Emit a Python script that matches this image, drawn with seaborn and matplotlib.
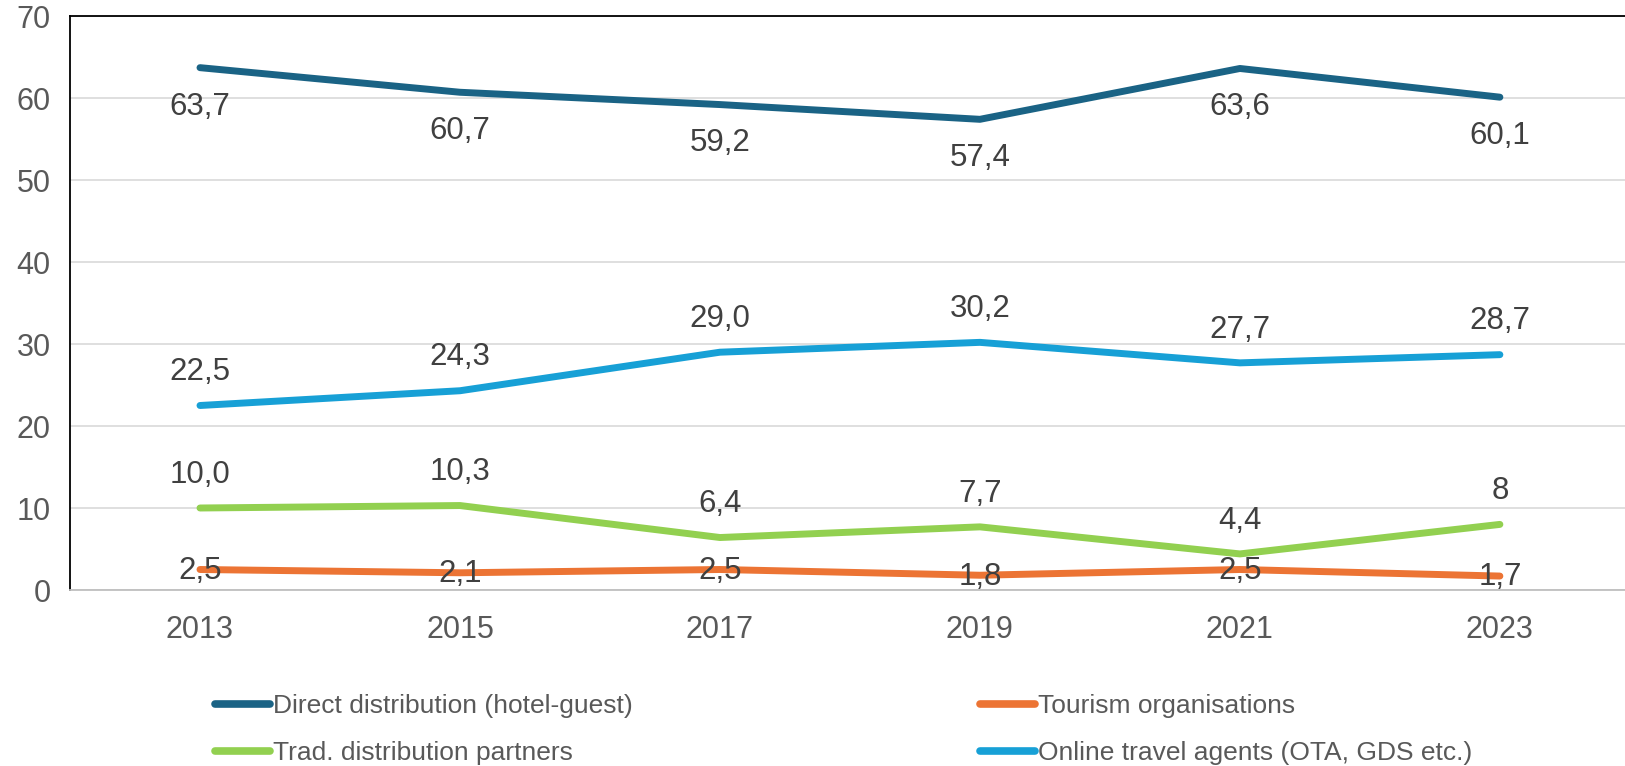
import matplotlib.pyplot as plt
import pandas as pd
import seaborn as sns
from matplotlib.lines import Line2D

years = ["2013", "2015", "2017", "2019", "2021", "2023"]
direct = [63.7, 60.7, 59.2, 57.4, 63.6, 60.1]
tourism = [2.5, 2.1, 2.5, 1.8, 2.5, 1.7]
trad = [10.0, 10.3, 6.4, 7.7, 4.4, 8.0]
online = [22.5, 24.3, 29.0, 30.2, 27.7, 28.7]

series_names = [
    "Direct distribution (hotel-guest)",
    "Tourism organisations",
    "Trad. distribution partners",
    "Online travel agents (OTA, GDS etc.)",
]
label_text = {
    "Direct distribution (hotel-guest)": ["63,7", "60,7", "59,2", "57,4", "63,6", "60,1"],
    "Tourism organisations": ["2,5", "2,1", "2,5", "1,8", "2,5", "1,7"],
    "Trad. distribution partners": ["10,0", "10,3", "6,4", "7,7", "4,4", "8"],
    "Online travel agents (OTA, GDS etc.)": ["22,5", "24,3", "29,0", "30,2", "27,7", "28,7"],
}
colors = {
    "Direct distribution (hotel-guest)": "#1a6385",
    "Tourism organisations": "#ec7434",
    "Trad. distribution partners": "#92d050",
    "Online travel agents (OTA, GDS etc.)": "#17a0d6",
}
# label offset in points: negative = below the point
offsets = {
    "Direct distribution (hotel-guest)": -28,
    "Tourism organisations": -1,
    "Trad. distribution partners": 24,
    "Online travel agents (OTA, GDS etc.)": 24,
}

df = pd.DataFrame({"year": years * 4,
                   "series": sum([[n] * 6 for n in series_names], []),
                   "value": direct + tourism + trad + online})

sns.set_style("white")
plt.rcParams["font.family"] = ["Liberation Sans", "DejaVu Sans"]

fig = plt.figure(figsize=(16.25, 7.66), dpi=100)
ax = fig.add_axes([70 / 1625, 1 - 590 / 766, 1 - 70 / 1625 + 0.003, 574 / 766])

sns.lineplot(data=df, x="year", y="value", hue="series", palette=colors,
             linewidth=5, ax=ax, legend=False, solid_capstyle="round")

for name in series_names:
    sub = df[df["series"] == name]
    for i, (x, y) in enumerate(zip(sub["year"], sub["value"])):
        ax.annotate(label_text[name][i], (i, y), xytext=(0, offsets[name]),
                    textcoords="offset points", ha="center", va="center",
                    fontsize=22.5, color="#404040")

ax.set_xlim(-0.5, 5.5)
ax.set_ylim(0, 70)
ax.set_yticks(range(0, 71, 10))
ax.grid(axis="y", color="#d9d9d9", linewidth=1.2)
ax.set_axisbelow(True)
ax.set_xlabel("")
ax.set_ylabel("")
ax.spines["right"].set_visible(False)
ax.spines["left"].set_color("black")
ax.spines["top"].set_color("black")
ax.spines["left"].set_linewidth(1.3)
ax.spines["top"].set_linewidth(1.3)
ax.spines["bottom"].set_color("#bfbfbf")
ax.spines["bottom"].set_linewidth(1.3)
ax.tick_params(axis="both", labelsize=22, colors="#595959", length=0)
ax.tick_params(axis="x", pad=18)
ax.tick_params(axis="y", pad=14)

def make_legend(names, x):
    handles = [Line2D([0], [0], color=colors[n], linewidth=5.5, solid_capstyle="round") for n in names]
    leg = fig.legend(handles, names, loc="upper left", bbox_to_anchor=(x, 1 - 694 / 766),
                     frameon=False, fontsize=19, handlelength=2.1, handletextpad=0.1,
                     labelspacing=0.87, borderpad=0, borderaxespad=0)
    for t in leg.get_texts():
        t.set_color("#595959")
    return leg

make_legend([series_names[0], series_names[2]], 215 / 1625)
make_legend([series_names[1], series_names[3]], 980 / 1625)

fig.savefig("out.png", dpi=100)
